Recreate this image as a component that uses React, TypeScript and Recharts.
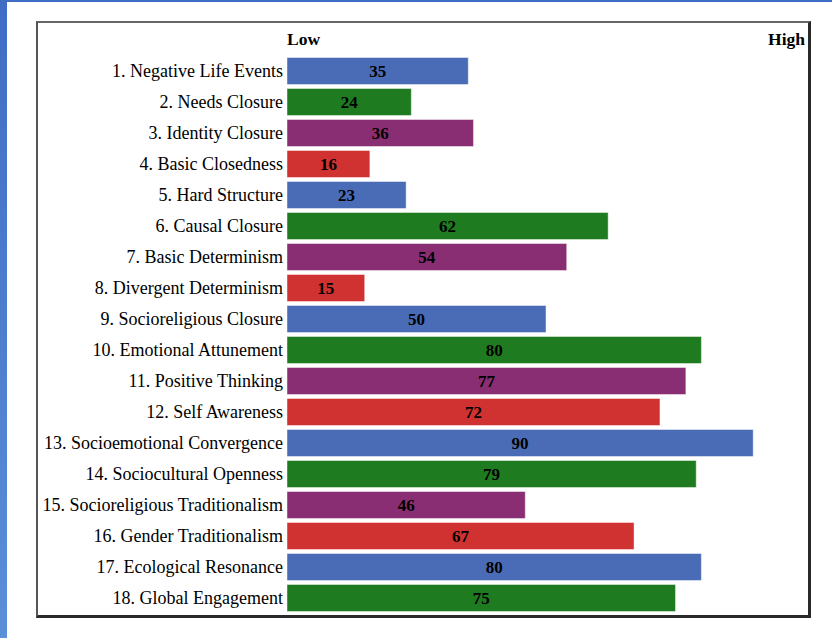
import { Bar, BarChart, Cell, LabelList, XAxis, YAxis } from "recharts";

const categories = [
  "1. Negative Life Events",
  "2. Needs Closure",
  "3. Identity Closure",
  "4. Basic Closedness",
  "5. Hard Structure",
  "6. Causal Closure",
  "7. Basic Determinism",
  "8. Divergent Determinism",
  "9. Socioreligious Closure",
  "10. Emotional Attunement",
  "11. Positive Thinking",
  "12. Self Awareness",
  "13. Socioemotional Convergence",
  "14. Sociocultural Openness",
  "15. Socioreligious Traditionalism",
  "16. Gender Traditionalism",
  "17. Ecological Resonance",
  "18. Global Engagement",
];

const values = [35, 24, 36, 16, 23, 62, 54, 15, 50, 80, 77, 72, 90, 79, 46, 67, 80, 75];

const palette = ["#4a6cb7", "#1f7b1f", "#8a2e73", "#d03131"];

const scaleTicks = [0, 100];
const scaleLabels: Record<number, string> = { 0: "Low", 100: "High" };

const data = categories.map((name, i) => ({ name, value: values[i] }));

const serif = "Liberation Serif, Times New Roman, serif";

function ScaleTick(props: any) {
  const { x, y, payload } = props;
  const v = payload.value;
  return (
    <text
      x={x}
      y={y}
      textAnchor={v === 0 ? "start" : "end"}
      style={{ fontFamily: serif, fontWeight: "bold", fontSize: 17.5 }}
      fill="#000"
    >
      {scaleLabels[v]}
    </text>
  );
}

export default function App() {
  return (
    <div style={{ position: "absolute", left: 0, top: 0, width: 832, height: 638, background: "#fff", overflow: "hidden" }}>
      <div style={{ position: "absolute", left: 0, top: 0, width: 7, height: 638, background: "linear-gradient(#3f6dc4, #5b8fd8)" }} />
      <div style={{ position: "absolute", left: 0, top: 0, width: 832, height: 2, background: "#3f6dc4" }} />
      <div
        style={{
          position: "absolute",
          left: 36,
          top: 21,
          width: 775,
          height: 597,
          boxSizing: "border-box",
          borderTop: "2px solid #666",
          borderLeft: "2px solid #555",
          borderRight: "3px solid #2a2a2a",
          borderBottom: "3px solid #2a2a2a",
        }}
      />
      <div style={{ position: "absolute", left: 0, top: 0, fontFamily: serif }}>
        <BarChart
          width={832}
          height={638}
          data={data}
          layout="vertical"
          barSize={27}
          margin={{ top: 25, right: 27, bottom: 24.5, left: 0 }}
          style={{ fontFamily: serif }}
        >
          <XAxis
            type="number"
            orientation="top"
            domain={[0, 100]}
            ticks={scaleTicks}
            height={30.5}
            axisLine={false}
            tickLine={false}
            tickSize={0}
            tickMargin={11}
            tick={<ScaleTick />}
          />
          <YAxis
            type="category"
            dataKey="name"
            width={287}
            axisLine={false}
            tickLine={false}
            tickSize={0}
            tickMargin={4}
            interval={0}
            tick={{ fill: "#000", fontSize: 18, fontFamily: serif }}
          />
          <Bar dataKey="value" isAnimationActive={false} stroke="rgba(255,255,255,0.45)" strokeWidth={1}>
            {data.map((d, i) => (
              <Cell key={d.name} fill={palette[i % 4]} />
            ))}
            <LabelList
              dataKey="value"
              position="center"
              fill="#000"
              fontWeight="bold"
              fontSize={17}
              fontFamily={serif}
            />
          </Bar>
        </BarChart>
      </div>
    </div>
  );
}
